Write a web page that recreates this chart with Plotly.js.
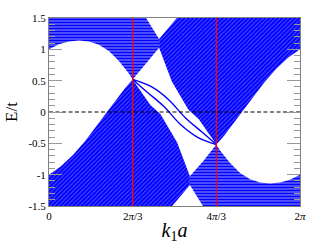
<!DOCTYPE html>
<html>
<head>
<meta charset="utf-8">
<script src="https://cdn.plot.ly/plotly-3.0.1.min.js"></script>
<style>
  html, body { margin: 0; padding: 0; background: #fff; }
  #chart { width: 332px; height: 249px; }
</style>
</head>
<body>
<div id="chart"></div>
<script>
// band edges, k1*a vs E/t
var upperLeftK = [0, 0.25, 0.5, 0.75, 1.0, 1.25, 1.5, 1.75, 2.0, 2.094];
var upperLeftE = [1.0, 1.08, 1.125, 1.14, 1.125, 1.075, 0.975, 0.815, 0.615, 0.52];
var lowerLeftK = [0, 0.3, 0.6, 0.9, 1.2, 1.45, 1.7, 1.9, 2.094];
var lowerLeftE = [-1.0, -0.865, -0.685, -0.465, -0.215, 0.0, 0.22, 0.38, 0.52];
var upperRightK = [4.189, 4.383, 4.583, 4.833, 5.083, 5.383, 5.683, 5.983, 6.283];
var upperRightE = [-0.52, -0.38, -0.22, 0.0, 0.215, 0.465, 0.685, 0.865, 1.0];
var lowerRightK = [4.189, 4.283, 4.533, 4.783, 5.033, 5.283, 5.533, 5.783, 6.033, 6.283];
var lowerRightE = [-0.52, -0.615, -0.815, -0.975, -1.075, -1.125, -1.14, -1.125, -1.08, -1.0];

// edges of the middle gap (Dirac points D1, D2 and the pinches P1, P2)
var d1ToP1K = [2.094, 2.42, 2.756];
var d1ToP1E = [0.52, 0.77, 1.025];
var p1ToD2K = [2.756, 3.075, 3.49, 3.75, 4.189];
var p1ToD2E = [1.025, 0.488, 0.037, -0.116, -0.52];
var d1ToP2K = [2.094, 2.533, 2.793, 3.208, 3.527];
var d1ToP2E = [0.52, 0.116, -0.037, -0.488, -1.025];
var d2ToP2K = [4.189, 3.863, 3.527];
var d2ToP2E = [-0.52, -0.78, -1.025];

// small gaps above P1 and below P2
var gapTopK = [2.43, 2.756, 3.20];
var gapTopE = [1.5, 1.166, 1.5];
var gapBottomK = [3.083, 3.527, 3.853];
var gapBottomE = [-1.5, -1.166, -1.5];

// edge states between the Dirac points
var edgeAK = [2.094, 2.572, 2.99, 3.41, 3.83, 4.189];
var edgeAE = [0.52, 0.40, 0.20, -0.09, -0.32, -0.52];
var edgeBK = [2.094, 2.453, 2.873, 3.293, 3.711, 4.189];
var edgeBE = [0.52, 0.32, 0.09, -0.20, -0.40, -0.52];

var diracK = [2 * Math.PI / 3, 4 * Math.PI / 3];
var kMax = 2 * Math.PI;
var eMin = -1.5, eMax = 1.5;

var tickK = [0, 2 * Math.PI / 3, 4 * Math.PI / 3, 2 * Math.PI];
var tickKText = ['0', '2<i>π</i>/3', '4<i>π</i>/3', '2<i>π</i>'];
var tickE = [-1.5, -1, -0.5, 0, 0.5, 1, 1.5];
var tickEText = ['-1.5', '-1', '-0.5', '0', '0.5', '1', '1.5'];

function rev(a) { return a.slice().reverse(); }

function bandTrace(k, e, shape, solidity) {
  return {
    x: k, y: e, type: 'scatter', mode: 'lines', fill: 'toself',
    line: {width: 0, color: '#0000ff'},
    fillcolor: '#0000ff',
    fillpattern: {shape: shape, size: 3, solidity: solidity, fgcolor: '#0000ff', bgcolor: '#ffffff', fillmode: 'replace'},
    hoverinfo: 'skip', showlegend: false
  };
}

var ulK = [0].concat(upperLeftK, d1ToP1K.slice(1), [gapTopK[1], gapTopK[0]]);
var ulE = [eMax].concat(upperLeftE, d1ToP1E.slice(1), [gapTopE[1], gapTopE[0]]);

var urK = [gapTopK[1], gapTopK[2], kMax].concat(rev(upperRightK), rev(p1ToD2K).slice(1));
var urE = [gapTopE[1], gapTopE[2], eMax].concat(rev(upperRightE), rev(p1ToD2E).slice(1));

var llK = [0].concat(lowerLeftK, d1ToP2K.slice(1), [gapBottomK[1], gapBottomK[0]]);
var llE = [eMin].concat(lowerLeftE, d1ToP2E.slice(1), [gapBottomE[1], gapBottomE[0]]);

var lrK = [gapBottomK[1], gapBottomK[2], kMax].concat(rev(lowerRightK), d2ToP2K.slice(1));
var lrE = [gapBottomE[1], gapBottomE[2], eMin].concat(rev(lowerRightE), d2ToP2E.slice(1));

var data = [
  bandTrace(ulK, ulE, '-', 0.8),
  bandTrace(urK, urE, '/', 0.9),
  bandTrace(llK, llE, '/', 0.9),
  bandTrace(lrK, lrE, '-', 0.8),
  {x: edgeAK, y: edgeAE, type: 'scatter', mode: 'lines', line: {color: '#0000ff', width: 1.4, shape: 'spline'}, hoverinfo: 'skip', showlegend: false},
  {x: edgeBK, y: edgeBE, type: 'scatter', mode: 'lines', line: {color: '#0000ff', width: 1.4, shape: 'spline'}, hoverinfo: 'skip', showlegend: false}
];

for (var i = 0; i < diracK.length; i++) {
  data.push({x: [diracK[i], diracK[i]], y: [eMin, eMax], type: 'scatter', mode: 'lines',
    line: {color: '#ff0000', width: 1.3}, hoverinfo: 'skip', showlegend: false});
}
data.push({x: [0, kMax], y: [0, 0], type: 'scatter', mode: 'lines',
  line: {color: '#000000', width: 1.2, dash: '4px,2.5px'}, hoverinfo: 'skip', showlegend: false});

var serif = 'Liberation Serif, DejaVu Serif, serif';

var layout = {
  width: 332, height: 249,
  margin: {l: 49, r: 32, t: 18, b: 43},
  paper_bgcolor: '#ffffff', plot_bgcolor: '#ffffff',
  font: {family: serif, size: 11, color: '#000'},
  showlegend: false,
  xaxis: {
    range: [0, kMax], tickvals: tickK, ticktext: tickKText,
    ticks: '', showgrid: false, zeroline: false,
    showline: true, mirror: true, linecolor: '#808080', linewidth: 1,
    tickfont: {family: serif, size: 11, color: '#000'},
    title: {text: '<i>k</i><sub>1</sub><i>a</i>', font: {family: serif, size: 20, color: '#000'}, standoff: 1}
  },
  yaxis: {
    range: [eMin, eMax], tickvals: tickE, ticktext: tickEText,
    ticks: 'inside', ticklen: 13, tickcolor: '#999', tickwidth: 1,
    mirror: 'allticks', showline: true, linecolor: '#808080', linewidth: 1,
    showgrid: false, zeroline: false,
    minor: {dtick: 0.1, ticks: 'inside', ticklen: 6, tickcolor: '#999', showgrid: false},
    tickfont: {family: serif, size: 11, color: '#000'},
    title: {text: 'E/t', font: {family: serif, size: 17, color: '#000'}, standoff: 6}
  }
};

Plotly.newPlot('chart', data, layout, {staticPlot: true, displayModeBar: false});
</script>
</body>
</html>
